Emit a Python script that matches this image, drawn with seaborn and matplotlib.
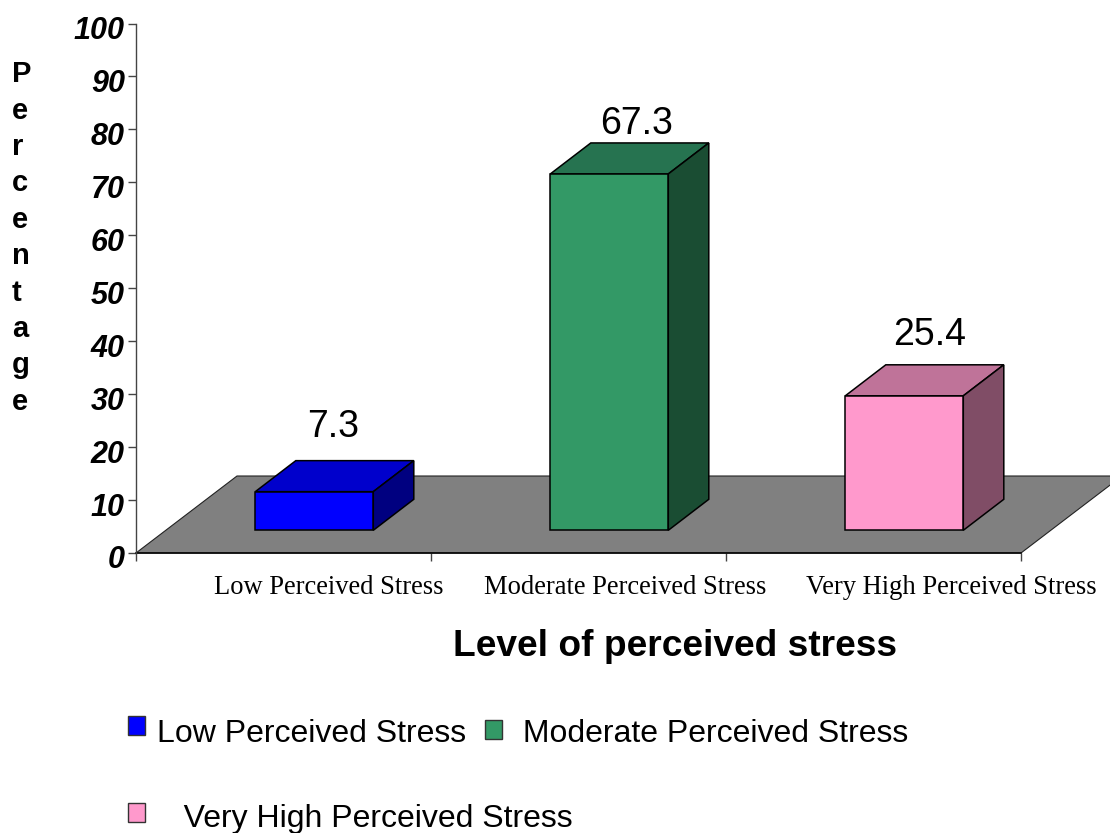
import seaborn as sns
import matplotlib.pyplot as plt
from matplotlib.patches import Polygon, Patch
from matplotlib.transforms import ScaledTranslation

levels = ["Low Perceived Stress", "Moderate Perceived Stress", "Very High Perceived Stress"]
values = [7.3, 67.3, 25.4]
colors = ["#0000FF", "#339966", "#FF99CC"]
top_colors = ["#0000CC", "#267350", "#BF7399"]
side_colors = ["#000080", "#1A4D33", "#804D66"]
y_ticks = list(range(0, 101, 10))

W, H = 1110, 833
# pixel box of the plot area
left, right, top, bottom = 136, 1021, 23.5, 553
ux = (right - left) / 3  # 3 categories
uy = (bottom - top) / 100

sns.set_theme(style="ticks")
plt.rcParams["font.family"] = ["Liberation Sans", "DejaVu Sans"]

fig = plt.figure(figsize=(W / 100, H / 100), dpi=100)
ax = fig.add_axes([left / W, 1 - bottom / H, (right - left) / W, (bottom - top) / H])

sns.barplot(x=levels, y=values, hue=levels, palette=colors, saturation=1, width=0.4,
            edgecolor="black", linewidth=1.1, legend=False, ax=ax)
ax.set_xlim(-0.5, 2.5)
ax.set_ylim(0, 100)

# fake 3d: floor plus top and side faces
floor_dx, floor_dy = 101 / ux, 77 / uy
base = 22.7 / uy
shift = 30.8 / ux
dx, dy = 40.5 / ux, 31 / uy

x0, x1 = -0.5, 2.5
floor = Polygon([(x0, 0), (x1, 0), (x1 + floor_dx, floor_dy), (x0 + floor_dx, floor_dy)],
                facecolor="#808080", edgecolor="#222222", linewidth=0.8, clip_on=False, zorder=1)
ax.add_patch(floor)

# per-bar offset of the value label, in pixels
label_dx = [19, 27, 25]
label_dy = [65, 50, 61]

bars = [c[0] for c in ax.containers]
for i, bar in enumerate(bars):
    bar.set_x(bar.get_x() + shift)
    bar.set_y(base)
    bar.set_zorder(4)
    bar.set_clip_on(False)
    xa = bar.get_x()
    xb = xa + bar.get_width()
    ya = base
    yb = base + bar.get_height()
    ax.add_patch(Polygon([(xa, yb), (xb, yb), (xb + dx, yb + dy), (xa + dx, yb + dy)],
                         facecolor=top_colors[i], edgecolor="black", linewidth=1.1,
                         clip_on=False, zorder=3))
    ax.add_patch(Polygon([(xb, ya), (xb + dx, ya + dy), (xb + dx, yb + dy), (xb, yb)],
                         facecolor=side_colors[i], edgecolor="black", linewidth=1.1,
                         clip_on=False, zorder=3))
    ax.annotate(str(values[i]), xy=((xa + xb) / 2, yb), xytext=(label_dx[i], label_dy[i]),
                textcoords="offset pixels", ha="center", va="center", fontsize=27, color="black")

# axes
sns.despine(ax=ax, top=True, right=True)
ax.spines["left"].set_color("#444444")
ax.spines["left"].set_linewidth(1)
ax.spines["bottom"].set_color("black")
ax.spines["bottom"].set_linewidth(1.1)
ax.spines["bottom"].set_zorder(2)
ax.set_yticks(y_ticks)
ax.set_yticklabels(y_ticks, fontsize=22, fontweight="bold", fontstyle="italic", color="black")
ax.tick_params(axis="y", length=6, width=1, color="#444444", pad=2)
# reference digits sit a little below their ticks
nudge = ScaledTranslation(0, -4 / 100, fig.dpi_scale_trans)
for lab in ax.get_yticklabels():
    lab.set_transform(lab.get_transform() + nudge)
ax.set_xticks([-0.5, 0.5, 1.5, 2.5])
ax.set_xticklabels([])
ax.tick_params(axis="x", length=6, width=1, color="#444444")

# category names do not sit on the ticks
cat_dx = [45.5, 47, 78]
for i, name in enumerate(levels):
    ax.annotate(name, xy=(i, 0), xytext=(cat_dx[i], -34), textcoords="offset pixels",
                ha="center", va="center", fontsize=19.1, family=["Liberation Serif"], color="black")

ax.set_xlabel("Level of perceived stress", fontsize=26.7, fontweight="bold", color="black")
ax.xaxis.set_label_coords((675 - left) / (right - left), -(647 - bottom) / (bottom - top))
ax.xaxis.get_label().set_va("center")
ax.set_ylabel("\n".join("Percentage"), rotation=0, fontsize=21, fontweight="bold", color="black",
              ha="left", va="center", linespacing=1.38, multialignment="left")
ax.yaxis.set_label_coords((12 - left) / (right - left), (bottom - 238) / (bottom - top))

# legend: column one holds Low and Very High
handles = [
    Patch(facecolor=colors[0], edgecolor="#333333", label=levels[0]),
    Patch(facecolor=colors[2], edgecolor="#333333", label="   " + levels[2]),
    Patch(facecolor=colors[1], edgecolor="#333333", label=" " + levels[1]),
]
leg = fig.legend(handles=handles, ncols=2, loc="upper left", bbox_to_anchor=(128 / W, 1 - 719 / H),
                 frameon=False, fontsize=23, labelcolor="black", handlelength=0.53, handleheight=0.53,
                 handletextpad=0.375, labelspacing=1.72, columnspacing=-2.75, borderpad=0,
                 borderaxespad=0)
# swatches sit above the text baseline centre in the reference
for h, lift in zip(leg.legend_handles, [3.6, 2.5, 0.7]):
    h.set_y(h.get_y() + lift)

fig.savefig("out.png", dpi=100)
